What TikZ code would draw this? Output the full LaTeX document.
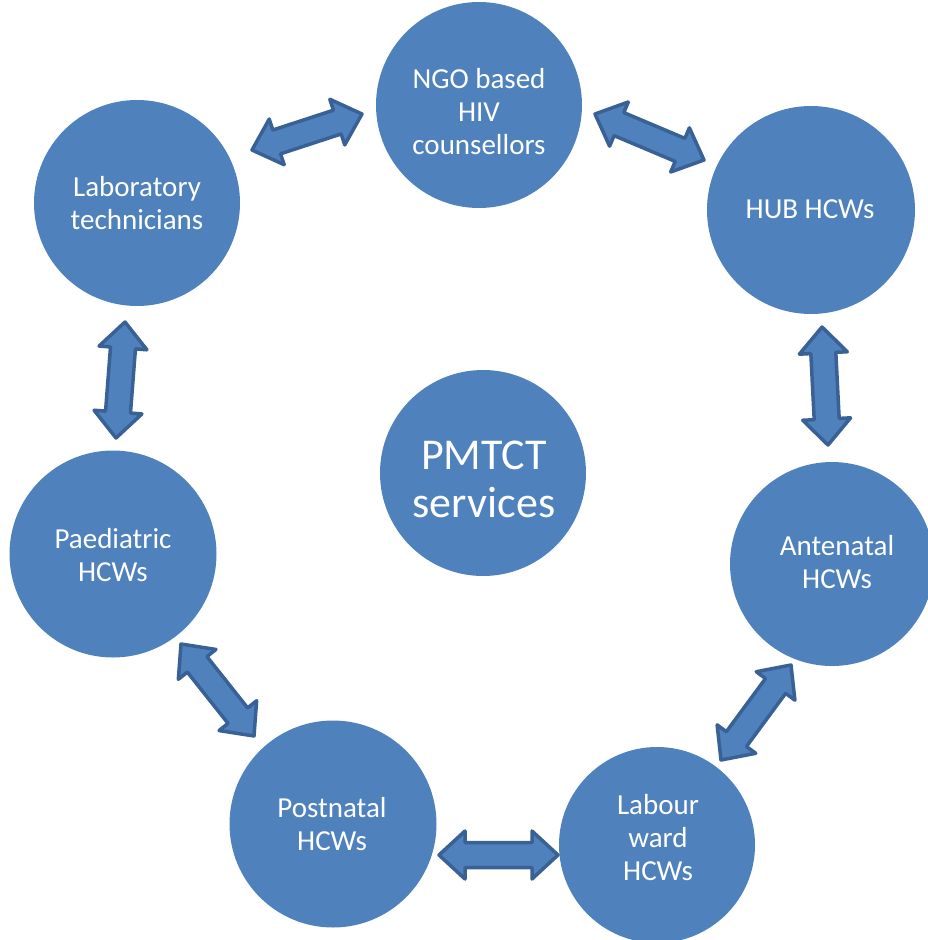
\documentclass[tikz,border=0pt]{standalone}
\usepackage{fontspec}
\setmainfont{Carlito}
\usetikzlibrary{calc}
\definecolor{cfill}{HTML}{4F81BD}
\definecolor{cedge}{HTML}{3A6195}
\tikzset{
  circ/.style={circle, fill=cfill, draw=none, inner sep=0pt},
  lbl/.style={text=white, align=center, font=\fontsize{29}{33}\selectfont, inner sep=0pt},
  biglbl/.style={text=white, align=center, font=\fontsize{44}{48}\selectfont, inner sep=0pt},
  blockarrow/.style={fill=cfill, draw=cedge, line width=3.5pt, line join=round}
}
\newcommand\hl{26pt}
\newcommand\hw{24pt}
\newcommand\sw{12.5pt}
\newcommand\dblarr[2]{%
  \coordinate (ha) at ($(#1)!\hl!(#2)$);
  \coordinate (hb) at ($(#2)!\hl!(#1)$);
  \draw[blockarrow] (#1) -- ($(ha)!\hw!90:(#2)$) -- ($(ha)!\sw!90:(#2)$)
    -- ($(hb)!\sw!-90:(#1)$) -- ($(hb)!\hw!-90:(#1)$) -- (#2)
    -- ($(hb)!\hw!90:(#1)$) -- ($(hb)!\sw!90:(#1)$)
    -- ($(ha)!\sw!-90:(#2)$) -- ($(ha)!\hw!-90:(#2)$) -- cycle;
}
\begin{document}
\begin{tikzpicture}[x=1pt, y=-1pt]
\useasboundingbox (0,0) rectangle (928,940);
% circles
\node[circ, minimum size=206pt] (ngo) at (479,105) {};
\node[circ, minimum size=206pt] (lab) at (137,203) {};
\node[circ, minimum size=208pt] (hub) at (811,210) {};
\node[circ, minimum size=206pt] (pmtct) at (483,473) {};
\node[circ, minimum size=207pt] (paed) at (113,554) {};
\node[circ, minimum size=204pt] (ante) at (832,564) {};
\node[circ, minimum size=207pt] (post) at (333,824) {};
\node[circ, minimum size=196pt] (labour) at (657,845) {};
% labels
\node[lbl] (ngo-t) at (479,112) {NGO based\\HIV\\counsellors};
\node[lbl] (lab-t) at (137,203) {Laboratory\\technicians};
\node[lbl] (hub-t) at (810,209) {HUB HCWs};
\node[biglbl] (pmtct-t) at (484,479) {PMTCT\\services};
\node[lbl] (paed-t) at (113,555) {Paediatric\\HCWs};
\node[lbl] (ante-t) at (837,562) {Antenatal\\HCWs};
\node[lbl] (post-t) at (332,824) {Postnatal\\HCWs};
\node[lbl] (labour-t) at (658,838) {Labour\\ward\\HCWs};
% arrow tips
\coordinate (a1) at (252,150);
\coordinate (b1) at (362,114);
\coordinate (a2) at (595,114);
\coordinate (b2) at (704,160);
\coordinate (a3) at (125,322);
\coordinate (b3) at (116,438);
\coordinate (a4) at (822,327);
\coordinate (b4) at (828,445);
\coordinate (a5) at (181,644);
\coordinate (b5) at (254,736);
\coordinate (a6) at (791,665);
\coordinate (b6) at (721,760);
\coordinate (a7) at (439,855);
\coordinate (b7) at (558,855);
\dblarr{a1}{b1}
\dblarr{a2}{b2}
\dblarr{a3}{b3}
\dblarr{a4}{b4}
\dblarr{a5}{b5}
\dblarr{a6}{b6}
\dblarr{a7}{b7}
\end{tikzpicture}
\end{document}
